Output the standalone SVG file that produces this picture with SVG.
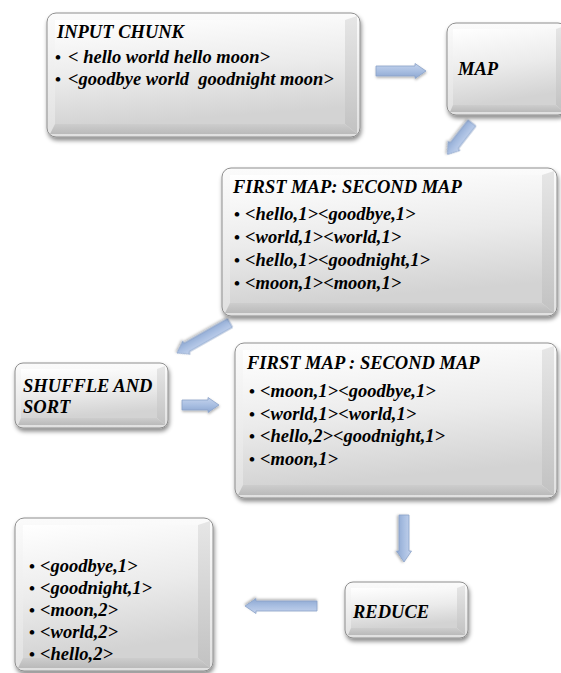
<svg xmlns="http://www.w3.org/2000/svg" width="561" height="673" viewBox="0 0 561 673">
  <style>
    .frame { fill: url(#frameFill); stroke: #8e8e8e; stroke-width: 1; filter: url(#shadow); }
    .face { fill: url(#faceFill); }
    .bevelR { fill: url(#bevelRight); }
    .bevelB { fill: url(#bevelBottom); }
    .lbl { font-family: "Liberation Serif", "Times New Roman", serif; font-weight: bold; font-style: italic; font-size: 18.5px; fill: #000; }
    .dot { font-family: "Liberation Serif", "Times New Roman", serif; font-style: normal; font-weight: bold; font-size: 17px; }
    .arrow { fill: url(#arrowFill); stroke: #8aa2c8; stroke-width: 0.8; filter: url(#arrowShadow); }
  </style>
  <defs>
    <filter id="shadow" x="-10%" y="-10%" width="125%" height="130%">
      <feDropShadow dx="1" dy="3" stdDeviation="2.2" flood-color="#000" flood-opacity="0.45"/>
    </filter>
    <filter id="arrowShadow" x="-20%" y="-50%" width="140%" height="200%">
      <feDropShadow dx="0.5" dy="1.5" stdDeviation="1" flood-color="#000" flood-opacity="0.3"/>
    </filter>
    <linearGradient id="frameFill" x1="0" y1="0" x2="0" y2="1">
      <stop offset="0" stop-color="#fbfbfb"/>
      <stop offset="1" stop-color="#e0e0e0"/>
    </linearGradient>
    <linearGradient id="faceFill" x1="0" y1="0" x2="0.2" y2="1">
      <stop offset="0" stop-color="#ffffff"/>
      <stop offset="0.55" stop-color="#ebebeb"/>
      <stop offset="1" stop-color="#d3d3d3"/>
    </linearGradient>
    <linearGradient id="bevelRight" x1="0" y1="0" x2="0" y2="1">
      <stop offset="0" stop-color="#e6e6e6"/>
      <stop offset="1" stop-color="#c2c2c2"/>
    </linearGradient>
    <linearGradient id="bevelBottom" x1="0" y1="0" x2="0" y2="1">
      <stop offset="0" stop-color="#cdcdcd"/>
      <stop offset="1" stop-color="#bababa"/>
    </linearGradient>
    <linearGradient id="arrowFill" gradientUnits="userSpaceOnUse" x1="0" y1="-7" x2="0" y2="7">
      <stop offset="0" stop-color="#c3d2ec"/>
      <stop offset="0.5" stop-color="#a9bfe2"/>
      <stop offset="1" stop-color="#8ea8d2"/>
    </linearGradient>
  </defs>

  <!-- connectors: block arrows -->
  <g id="connectors">
    <path class="arrow" transform="translate(376,71)" d="M0,-5 H39 V-7.5 L50,0 L39,7.5 V5 H0 Z"/>
    <path class="arrow" transform="translate(472,123) rotate(128)" d="M0,-5 H29 V-7.5 L40,0 L29,7.5 V5 H0 Z"/>
    <path class="arrow" transform="translate(230,323) rotate(150.5)" d="M0,-5 H50 V-7.5 L61,0 L50,7.5 V5 H0 Z"/>
    <path class="arrow" transform="translate(182,405)" d="M0,-5 H26 V-7.5 L37,0 L26,7.5 V5 H0 Z"/>
    <path class="arrow" transform="translate(404,515) rotate(90)" d="M0,-5 H36 V-7.5 L47,0 L36,7.5 V5 H0 Z"/>
    <path class="arrow" transform="translate(317,606) rotate(180)" d="M0,-5 H61 V-7.5 L72,0 L61,7.5 V5 H0 Z"/>
  </g>

  <!-- input chunk -->
  <g id="input-chunk">
    <rect class="frame" x="47" y="13" width="313" height="124" rx="9"/>
    <polygon class="bevelR" points="357,16 357,134 345,124 345,20"/>
    <polygon class="bevelB" points="50,134 357,134 345,124 55,124"/>
    <rect class="face" x="55" y="20" width="290" height="104"/>
    <text class="lbl" x="57" y="38">INPUT CHUNK</text>
    <text class="lbl" x="55" y="63"><tspan class="dot">•</tspan><tspan x="68">&lt; hello world hello moon&gt;</tspan></text>
    <text class="lbl" x="55" y="85"><tspan class="dot">•</tspan><tspan x="68" xml:space="preserve">&lt;goodbye world  goodnight moon&gt;</tspan></text>
  </g>

  <!-- map step -->
  <g id="map">
    <rect class="frame" x="447" y="23" width="120" height="92" rx="9"/>
    <polygon class="bevelR" points="564,26 564,112 556,105 556,29"/>
    <polygon class="bevelB" points="450,112 564,112 556,105 453,105"/>
    <rect class="face" x="453" y="29" width="103" height="76"/>
    <text class="lbl" x="458" y="75">MAP</text>
  </g>

  <!-- output of the two mappers -->
  <g id="map-output">
    <rect class="frame" x="222" y="168" width="335" height="148" rx="9"/>
    <polygon class="bevelR" points="554,171 554,313 542,303 542,175"/>
    <polygon class="bevelB" points="225,313 554,313 542,303 230,303"/>
    <rect class="face" x="230" y="175" width="312" height="128"/>
    <text class="lbl" x="233" y="193">FIRST MAP: SECOND MAP</text>
    <text class="lbl" x="234" y="220"><tspan class="dot">•</tspan><tspan x="245">&lt;hello,1&gt;&lt;goodbye,1&gt;</tspan></text>
    <text class="lbl" x="234" y="243"><tspan class="dot">•</tspan><tspan x="245">&lt;world,1&gt;&lt;world,1&gt;</tspan></text>
    <text class="lbl" x="234" y="266"><tspan class="dot">•</tspan><tspan x="245">&lt;hello,1&gt;&lt;goodnight,1&gt;</tspan></text>
    <text class="lbl" x="234" y="289"><tspan class="dot">•</tspan><tspan x="245">&lt;moon,1&gt;&lt;moon,1&gt;</tspan></text>
  </g>

  <!-- shuffle and sort step -->
  <g id="shuffle-sort">
    <rect class="frame" x="15" y="363" width="153" height="65" rx="8"/>
    <polygon class="bevelR" points="165,366 165,425 157,418 157,369"/>
    <polygon class="bevelB" points="18,425 165,425 157,418 21,418"/>
    <rect class="face" x="21" y="369" width="136" height="49"/>
    <text class="lbl" x="23" y="392">SHUFFLE AND</text>
    <text class="lbl" x="23" y="413">SORT</text>
  </g>

  <!-- shuffled and sorted pairs -->
  <g id="sorted-output">
    <rect class="frame" x="235" y="343" width="322" height="155" rx="9"/>
    <polygon class="bevelR" points="554,346 554,495 542,485 542,350"/>
    <polygon class="bevelB" points="238,495 554,495 542,485 243,485"/>
    <rect class="face" x="243" y="350" width="299" height="135"/>
    <text class="lbl" x="247" y="369">FIRST MAP : SECOND MAP</text>
    <text class="lbl" x="249" y="397"><tspan class="dot">•</tspan><tspan x="260">&lt;moon,1&gt;&lt;goodbye,1&gt;</tspan></text>
    <text class="lbl" x="249" y="420"><tspan class="dot">•</tspan><tspan x="260">&lt;world,1&gt;&lt;world,1&gt;</tspan></text>
    <text class="lbl" x="249" y="442"><tspan class="dot">•</tspan><tspan x="260">&lt;hello,2&gt;&lt;goodnight,1&gt;</tspan></text>
    <text class="lbl" x="249" y="465"><tspan class="dot">•</tspan><tspan x="260">&lt;moon,1&gt;</tspan></text>
  </g>

  <!-- reduce step -->
  <g id="reduce">
    <rect class="frame" x="345" y="582" width="123" height="56" rx="8"/>
    <polygon class="bevelR" points="465,585 465,635 457,628 457,588"/>
    <polygon class="bevelB" points="348,635 465,635 457,628 351,628"/>
    <rect class="face" x="351" y="588" width="106" height="40"/>
    <text class="lbl" x="353" y="618">REDUCE</text>
  </g>

  <!-- final counts -->
  <g id="result">
    <rect class="frame" x="15" y="518" width="198" height="153" rx="9"/>
    <polygon class="bevelR" points="210,521 210,668 198,658 198,525"/>
    <polygon class="bevelB" points="18,668 210,668 198,658 23,658"/>
    <rect class="face" x="23" y="525" width="175" height="133"/>
    <text class="lbl" x="29" y="572"><tspan class="dot">•</tspan><tspan x="40">&lt;goodbye,1&gt;</tspan></text>
    <text class="lbl" x="29" y="594"><tspan class="dot">•</tspan><tspan x="40">&lt;goodnight,1&gt;</tspan></text>
    <text class="lbl" x="29" y="616"><tspan class="dot">•</tspan><tspan x="40">&lt;moon,2&gt;</tspan></text>
    <text class="lbl" x="29" y="638"><tspan class="dot">•</tspan><tspan x="40">&lt;world,2&gt;</tspan></text>
    <text class="lbl" x="29" y="660"><tspan class="dot">•</tspan><tspan x="40">&lt;hello,2&gt;</tspan></text>
  </g>
</svg>
